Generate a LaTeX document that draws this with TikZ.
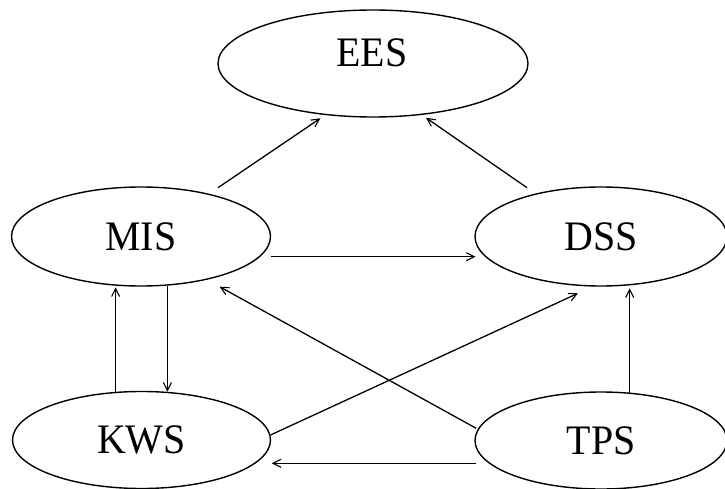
\documentclass[tikz,border=0pt]{standalone}
\usepackage{fontspec}
\setmainfont{Liberation Serif}
\usetikzlibrary{shapes.geometric,arrows.meta}
\begin{document}
\begin{tikzpicture}[x=1pt,y=-1pt,
  sysbox/.style={ellipse,draw,line width=1.4pt,inner sep=0pt},
  lbl/.style={font=\fontsize{42}{42}\selectfont,inner sep=0pt},
  conn/.style={line width=1.3pt,-{Straight Barb[length=8pt,width=8pt,line width=1.1pt]}}]
\useasboundingbox (0,0) rectangle (725,489);
\node[sysbox,minimum width=310pt,minimum height=107pt] (ees) at (373,63.5) {};
\node[lbl] (eestext) at (372,52.5) {\scalebox{0.95}[1]{EES}};
\node[sysbox,lbl,minimum width=259pt,minimum height=99pt] (mis) at (141,236.5) {\scalebox{0.95}[1]{MIS}};
\node[sysbox,lbl,minimum width=252pt,minimum height=99pt] (dss) at (601,236.5) {\scalebox{0.95}[1]{DSS}};
\node[sysbox,lbl,minimum width=258pt,minimum height=97pt] (kws) at (141.5,440) {\scalebox{0.95}[1]{KWS}};
\node[sysbox,lbl,minimum width=252pt,minimum height=97pt] (tps) at (601,440.5) {\scalebox{0.95}[1]{TPS}};
% connector end points
\coordinate (me1) at (218,187.7);  \coordinate (me2) at (320.4,118.3);
\coordinate (de1) at (527,187.7);  \coordinate (de2) at (426,117.8);
\coordinate (md1) at (270.5,256.7); \coordinate (md2) at (475.5,256.7);
\coordinate (km1) at (115.6,392.7); \coordinate (km2) at (115.6,287.3);
\coordinate (mk1) at (167.4,286);   \coordinate (mk2) at (167.4,391.7);
\coordinate (tm1) at (476.2,428.3); \coordinate (tm2) at (219.6,286.7);
\coordinate (kd1) at (270.5,435);   \coordinate (kd2) at (578,293.3);
\coordinate (td1) at (629.7,392.7); \coordinate (td2) at (629.7,288.3);
\coordinate (tk1) at (476.2,463.3); \coordinate (tk2) at (271.8,463.3);
\draw[conn] (me1) -- (me2);
\draw[conn] (de1) -- (de2);
\draw[conn] (md1) -- (md2);
\draw[conn] (km1) -- (km2);
\draw[conn] (mk1) -- (mk2);
\draw[conn] (tm1) -- (tm2);
\draw[conn] (kd1) -- (kd2);
\draw[conn] (td1) -- (td2);
\draw[conn] (tk1) -- (tk2);
\end{tikzpicture}
\end{document}
